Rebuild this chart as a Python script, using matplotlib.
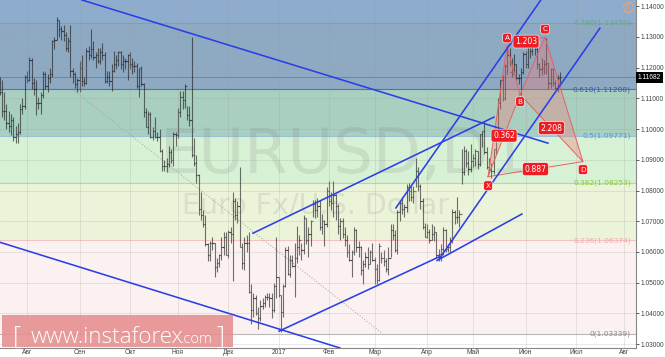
import matplotlib
matplotlib.use('Agg')
import matplotlib.pyplot as plt
import matplotlib.transforms as mtransforms
import numpy as np
import pandas as pd

# daily EURUSD bars, 14 Jul 2016 .. 22 Jun 2017
high = [
    1.1170, 1.1160, 1.1120, 1.1080, 1.1060, 1.1050, 1.1040, 1.1010, 1.1020, 1.1080, 1.1100, 1.1175,
    1.1190, 1.1235, 1.1230, 1.1165, 1.1160, 1.1105, 1.1120, 1.1190, 1.1185, 1.1180, 1.1200, 1.1290,
    1.1300, 1.1365, 1.1355, 1.1335, 1.1340, 1.1315, 1.1300, 1.1340, 1.1200, 1.1185, 1.1165,
    1.1220, 1.1240, 1.1170, 1.1265, 1.1270, 1.1325, 1.1285, 1.1250, 1.1265, 1.1265, 1.1280, 1.1250,
    1.1190, 1.1190, 1.1210, 1.1255, 1.1240, 1.1255, 1.1255, 1.1240, 1.1230, 1.1245,
    1.1250, 1.1230, 1.1220, 1.1215, 1.1200, 1.1205, 1.1150, 1.1070, 1.1060, 1.1055, 1.1005, 1.1040,
    1.0990, 1.1000, 1.0935, 1.0900, 1.0905, 1.0945, 1.0935, 1.0990, 1.0990,
    1.1070, 1.1125, 1.1125, 1.1145, 1.1075, 1.1075, 1.1300, 1.0970, 1.0915, 1.0855, 1.0795, 1.0735,
    1.0720, 1.0630, 1.0635, 1.0650, 1.0630, 1.0580, 1.0595, 1.0650, 1.0665, 1.0665,
    1.0670, 1.0680, 1.0795, 1.0775, 1.0765, 1.0875, 1.0630, 1.0650, 1.0655, 1.0665, 1.0495, 1.0465,
    1.0460, 1.0420, 1.0445, 1.0450, 1.0460, 1.0465, 1.0465, 1.0465, 1.0500, 1.0650,
    1.0520, 1.0460, 1.0495, 1.0615, 1.0620, 1.0590, 1.0590, 1.0630, 1.0685, 1.0655, 1.0630, 1.0720,
    1.0710, 1.0680, 1.0705, 1.0770, 1.0770, 1.0775, 1.0770, 1.0725, 1.0705, 1.0810,
    1.0830, 1.0795, 1.0830, 1.0790, 1.0755, 1.0710, 1.0710, 1.0680, 1.0655, 1.0625, 1.0605, 1.0680,
    1.0675, 1.0635, 1.0620, 1.0575, 1.0600, 1.0615, 1.0605, 1.0630,
    1.0585, 1.0560, 1.0630, 1.0600, 1.0605, 1.0580, 1.0615, 1.0690, 1.0690, 1.0670, 1.0735, 1.0765,
    1.0780, 1.0755, 1.0820, 1.0825, 1.0815, 1.0815, 1.0905, 1.0875, 1.0820, 1.0775, 1.0695,
    1.0690, 1.0675, 1.0690, 1.0685, 1.0665, 1.0610, 1.0625, 1.0680, 1.0675, 1.0625, 1.0650, 1.0740,
    1.0735, 1.0780, 1.0735, 1.0935, 1.0945, 1.0935, 1.0930, 1.0950,
    1.0920, 1.0935, 1.0930, 1.0985, 1.0995, 1.1025, 1.0940, 1.0905, 1.0890, 1.0935, 1.0985, 1.1100,
    1.1160, 1.1175, 1.1210, 1.1268, 1.1265, 1.1230, 1.1245, 1.1210, 1.1180, 1.1200, 1.1250,
    1.1255, 1.1285, 1.1285, 1.1285, 1.1280, 1.1270, 1.1215, 1.1230, 1.1225, 1.1296, 1.1215, 1.1200,
    1.1200, 1.1160, 1.1175, 1.1185,
]
low = [
    1.1110, 1.1040, 1.1030, 1.1000, 1.0990, 1.0980, 1.0960, 1.0955, 1.0955, 1.0985, 1.1050, 1.1065,
    1.1150, 1.1155, 1.1130, 1.1110, 1.1045, 1.1065, 1.1050, 1.1100, 1.1130, 1.1120, 1.1150, 1.1170,
    1.1260, 1.1290, 1.1300, 1.1290, 1.1285, 1.1255, 1.1250, 1.1170, 1.1150, 1.1135, 1.1120,
    1.1120, 1.1140, 1.1140, 1.1145, 1.1225, 1.1230, 1.1225, 1.1200, 1.1215, 1.1210, 1.1225, 1.1150,
    1.1150, 1.1140, 1.1125, 1.1185, 1.1195, 1.1205, 1.1195, 1.1185, 1.1195, 1.1160,
    1.1195, 1.1180, 1.1185, 1.1135, 1.1105, 1.1140, 1.1040, 1.1005, 1.0985, 1.0970, 1.0965, 1.0970,
    1.0960, 1.0925, 1.0865, 1.0865, 1.0860, 1.0875, 1.0890, 1.0880, 1.0945,
    1.0970, 1.1040, 1.1065, 1.1070, 1.1030, 1.1010, 1.0910, 1.0880, 1.0825, 1.0720, 1.0705, 1.0680,
    1.0620, 1.0570, 1.0570, 1.0605, 1.0520, 1.0535, 1.0550, 1.0575, 1.0590, 1.0590,
    1.0580, 1.0630, 1.0505, 1.0705, 1.0695, 1.0615, 1.0545, 1.0540, 1.0600, 1.0465, 1.0365, 1.0390,
    1.0395, 1.0350, 1.0375, 1.0415, 1.0420, 1.0445, 1.0420, 1.0385, 1.0405, 1.0450,
    1.0455, 1.0340, 1.0390, 1.0485, 1.0525, 1.0520, 1.0550, 1.0455, 1.0565, 1.0590, 1.0575, 1.0595,
    1.0625, 1.0585, 1.0620, 1.0715, 1.0710, 1.0715, 1.0670, 1.0660, 1.0620, 1.0680,
    1.0750, 1.0735, 1.0715, 1.0705, 1.0660, 1.0640, 1.0645, 1.0620, 1.0585, 1.0570, 1.0520, 1.0590,
    1.0600, 1.0585, 1.0525, 1.0495, 1.0550, 1.0545, 1.0560, 1.0570,
    1.0495, 1.0495, 1.0505, 1.0565, 1.0555, 1.0535, 1.0525, 1.0585, 1.0640, 1.0600, 1.0595, 1.0700,
    1.0725, 1.0715, 1.0730, 1.0765, 1.0765, 1.0760, 1.0810, 1.0800, 1.0740, 1.0675, 1.0650,
    1.0645, 1.0630, 1.0640, 1.0635, 1.0580, 1.0570, 1.0570, 1.0590, 1.0600, 1.0600, 1.0600, 1.0630,
    1.0690, 1.0695, 1.0680, 1.0820, 1.0850, 1.0875, 1.0850, 1.0860,
    1.0875, 1.0880, 1.0870, 1.0880, 1.0940, 1.0920, 1.0870, 1.0865, 1.0840, 1.0855, 1.0920, 1.0970,
    1.1065, 1.1090, 1.1095, 1.1180, 1.1205, 1.1170, 1.1180, 1.1160, 1.1145, 1.1110, 1.1180,
    1.1200, 1.1200, 1.1230, 1.1240, 1.1240, 1.1195, 1.1170, 1.1175, 1.1180, 1.1180, 1.1130, 1.1135,
    1.1140, 1.1130, 1.1120, 1.1150,
]
close = [
    1.1120, 1.1060, 1.1060, 1.1020, 1.1010, 1.1030, 1.0975, 1.0985, 1.0990, 1.1065, 1.1075, 1.1170,
    1.1160, 1.1225, 1.1150, 1.1130, 1.1085, 1.1085, 1.1110, 1.1180, 1.1140, 1.1165, 1.1180, 1.1285,
    1.1290, 1.1355, 1.1325, 1.1320, 1.1305, 1.1265, 1.1285, 1.1190, 1.1180, 1.1145, 1.1160,
    1.1200, 1.1155, 1.1150, 1.1255, 1.1240, 1.1260, 1.1235, 1.1240, 1.1220, 1.1250, 1.1240, 1.1155,
    1.1170, 1.1155, 1.1190, 1.1210, 1.1225, 1.1250, 1.1210, 1.1220, 1.1220, 1.1240,
    1.1210, 1.1205, 1.1205, 1.1140, 1.1200, 1.1145, 1.1055, 1.1005, 1.1050, 1.0975, 1.0995, 1.0975,
    1.0975, 1.0930, 1.0880, 1.0880, 1.0885, 1.0925, 1.0900, 1.0985, 1.0980,
    1.1055, 1.1105, 1.1095, 1.1140, 1.1045, 1.1030, 1.0915, 1.0890, 1.0850, 1.0740, 1.0720, 1.0690,
    1.0625, 1.0590, 1.0630, 1.0630, 1.0550, 1.0565, 1.0590, 1.0615, 1.0650, 1.0590,
    1.0665, 1.0660, 1.0765, 1.0720, 1.0750, 1.0615, 1.0565, 1.0630, 1.0630, 1.0470, 1.0410, 1.0450,
    1.0400, 1.0385, 1.0425, 1.0435, 1.0455, 1.0455, 1.0450, 1.0410, 1.0490, 1.0520,
    1.0460, 1.0405, 1.0490, 1.0605, 1.0530, 1.0575, 1.0555, 1.0580, 1.0615, 1.0640, 1.0605, 1.0710,
    1.0640, 1.0660, 1.0700, 1.0755, 1.0735, 1.0750, 1.0680, 1.0700, 1.0690, 1.0800,
    1.0765, 1.0760, 1.0785, 1.0750, 1.0685, 1.0700, 1.0660, 1.0640, 1.0600, 1.0575, 1.0600, 1.0670,
    1.0615, 1.0615, 1.0540, 1.0560, 1.0585, 1.0560, 1.0600, 1.0575,
    1.0545, 1.0510, 1.0620, 1.0580, 1.0570, 1.0545, 1.0580, 1.0670, 1.0655, 1.0605, 1.0730, 1.0760,
    1.0740, 1.0745, 1.0810, 1.0800, 1.0780, 1.0800, 1.0865, 1.0815, 1.0765, 1.0680, 1.0650,
    1.0665, 1.0640, 1.0660, 1.0665, 1.0590, 1.0595, 1.0610, 1.0670, 1.0610, 1.0615, 1.0640, 1.0730,
    1.0715, 1.0715, 1.0725, 1.0860, 1.0930, 1.0890, 1.0870, 1.0895,
    1.0905, 1.0930, 1.0885, 1.0985, 1.0995, 1.0925, 1.0875, 1.0870, 1.0865, 1.0935, 1.0980, 1.1085,
    1.1160, 1.1100, 1.1205, 1.1240, 1.1185, 1.1180, 1.1210, 1.1165, 1.1165, 1.1185, 1.1245,
    1.1210, 1.1280, 1.1255, 1.1275, 1.1260, 1.1210, 1.1195, 1.1200, 1.1210, 1.1215, 1.1150, 1.1195,
    1.1150, 1.1135, 1.1165, 1.11682,
]
first_open = 1.1150
last_price = 1.11682

month_labels = ['Авг', 'Сен', 'Окт', 'Ноя', 'Дек', '2017', 'Фев', 'Мар', 'Апр', 'Май', 'Июн', 'Июл', 'Авг']
price_ticks = [1.03, 1.04, 1.05, 1.06, 1.07, 1.08, 1.09, 1.10, 1.11, 1.12, 1.13, 1.14]

# fibonacci retracement
fib_ratios = ['0', '0.236', '0.382', '0.5', '0.618', '0.786']
fib_prices = [1.03339, 1.06374, 1.08253, 1.09771, 1.11288, 1.13450]
fib_top = 1.16203
zone_colors = ['#fcf1f1', '#ebf3d9', '#d6f1d4', '#a8cfc0', '#8ea9c2', '#8eadce']
line_colors = ['#b8b8b8', '#f4c4c4', '#b4dc8c', '#9cc0d8', '#5b6fb8', '#7ca596']
text_colors = ['#8c8c8c', '#f2aaaa', '#8cc63f', '#4a9fd6', '#3f57a8', '#6aa587']

# trend lines: (bar index, price) -> (bar index, price)
trend_lines = [
    (36.0, 1.14197, 239.8, 1.09540),
    (0.2, 1.06315, 148.9, 1.02877),
    (122.2, 1.03425, 192.6, 1.05856),
    (110.8, 1.06611, 216.2, 1.10388),
    (173.3, 1.07432, 236.7, 1.14197),
    (192.1, 1.05757, 262.5, 1.13278),
    (191.3, 1.05724, 228.4, 1.07235),
]
fib_base = (0.2, 1.13146, 167.2, 1.03360)

# XABCD harmonic pattern
pat_names = ['X', 'A', 'B', 'C', 'D']
pat_idx = [213.6, 221.9, 227.6, 238.5, 255.1]
pat_price = [1.0845, 1.1270, 1.1112, 1.1299, 1.0894]
pat_ratios = ['0.362', '1.203', '2.208', '0.887']

dates = pd.bdate_range('2016-07-14', periods=len(close))
axis_days = pd.bdate_range('2016-07-14', '2017-08-31')
month_pos = [i for i in range(1, len(axis_days)) if axis_days[i].month != axis_days[i - 1].month]

fig = plt.figure(figsize=(6.65, 3.57), dpi=100)
ax = fig.add_axes([0, 9 / 357, 636 / 665, 348 / 357])
ax.set_xlim(0.19, 278.3)
ax.set_ylim(1.02877, 1.14197)

# zones
bounds = fib_prices + [fib_top]
for k in range(len(fib_prices)):
    ax.axhspan(bounds[k], bounds[k + 1], color=zone_colors[k], lw=0, zorder=0)
    ax.axhline(fib_prices[k], color=line_colors[k], lw=0.8, zorder=0.6)
    ax.text(631 / 636, fib_prices[k], f'{fib_ratios[k]}({fib_prices[k]:.5f})',
            transform=mtransforms.blended_transform_factory(ax.transAxes, ax.transData),
            ha='right', va='center', fontsize=5.4, color=text_colors[k], zorder=5)

ax.grid(True, color='#9a9a9a', alpha=0.25, lw=0.6)
ax.set_axisbelow(False)
for gl in ax.get_xgridlines() + ax.get_ygridlines():
    gl.set_zorder(0.5)

# watermark
ax.text(160 / 636, 1 - 173 / 348, 'EURUSD,D1', transform=ax.transAxes, fontsize=45,
        color='#808080', alpha=0.17, ha='left', va='baseline', zorder=1)
ax.text(182 / 636, 1 - 214 / 348, 'Euro Fx/U.S. Dollar', transform=ax.transAxes, fontsize=20.5,
        color='#808080', alpha=0.17, ha='left', va='baseline', zorder=1)

# fibonacci base (dotted)
ax.plot([fib_base[0], fib_base[2]], [fib_base[1], fib_base[3]], color='#a0a0a0',
        lw=0.7, ls=(0, (1, 2)), zorder=1.5)

# OHLC bars
x = np.arange(len(close))
opn = [first_open] + close[:-1]
ax.vlines(x, low, high, color='#1c1c1c', alpha=0.62, lw=0.8, zorder=2)
ax.hlines(opn, x - 0.55, x, color='#1c1c1c', alpha=0.62, lw=0.8, zorder=2)
ax.hlines(close, x, x + 0.55, color='#1c1c1c', alpha=0.62, lw=0.8, zorder=2)

# current price
ax.axhline(last_price, color='#7c7c8c', lw=0.6, zorder=1.8)
ax.text(1 + 2 / 636, last_price, f'{last_price:.5f}',
        transform=mtransforms.blended_transform_factory(ax.transAxes, ax.transData),
        ha='left', va='center', fontsize=4.8, color='white', zorder=6, clip_on=False,
        family='Liberation Sans',
        bbox=dict(boxstyle='square,pad=0.3', fc='black', ec='none'))

# trend lines
for x0, y0, x1, y1 in trend_lines:
    ax.plot([x0, x1], [y0, y1], color='#2b3fe6', lw=1.15, zorder=3)

# harmonic pattern
px = pat_idx
py = pat_price
for tri in ([0, 1, 2], [2, 3, 4]):
    ax.fill([px[t] for t in tri], [py[t] for t in tri], color='#f27a7a', alpha=0.35, lw=0, zorder=2.5)
    ax.plot([px[t] for t in tri + [tri[0]]], [py[t] for t in tri + [tri[0]]],
            color='#e86060', lw=0.7, zorder=2.6)
for a, b in ((0, 4), (1, 3)):
    ax.plot([px[a], px[b]], [py[a], py[b]], color='#e86060', lw=0.7, zorder=2.6)

red_box = dict(boxstyle='round,pad=0.25,rounding_size=0.3', fc='#ee1d24', ec='#ffffff', lw=0.4)
offsets = [-9, 8, -7, 8, -8]
for k, name in enumerate(pat_names):
    ax.annotate(name, (px[k], py[k]), xytext=(0, offsets[k] * 0.72), textcoords='offset points',
                ha='center', va='center', fontsize=5.2, color='white', bbox=red_box, zorder=7)
for (a, b), lab in zip(((0, 2), (1, 3), (2, 4), (0, 4)), pat_ratios):
    ax.text((px[a] + px[b]) / 2, (py[a] + py[b]) / 2, lab, ha='center', va='center',
            fontsize=5.6, color='white', bbox=red_box, zorder=7)

# alert icon
ax.plot([628 / 636], [1 - 7 / 348], transform=ax.transAxes, marker='o', ms=7, mfc='none',
        mec='#f0a070', mew=0.8, zorder=6, clip_on=False)
ax.text(628 / 636, 1 - 7 / 348, '!', transform=ax.transAxes, ha='center', va='center',
        fontsize=5, color='#f0a070', zorder=6)

# instaforex stamp
ax.add_patch(plt.Rectangle((2 / 636, 1 / 348), 231 / 636, 32 / 348, transform=ax.transAxes,
                           fc='#e68e8e', ec='none', alpha=0.88, zorder=8))
stamp = dict(transform=ax.transAxes, color='white', va='baseline', ha='left', zorder=9,
             family='Open Sans', fontweight='light')
ax.text(13 / 636, 1 - 344 / 348, '[', fontsize=18, **stamp)
ax.text(31 / 636, 1 - 343 / 348, 'www.instaforex', fontsize=16.2, **stamp)
ax.text(181 / 636, 1 - 343 / 348, '.com', fontsize=10.5, **stamp)
ax.text(216 / 636, 1 - 344 / 348, ']', fontsize=18, **stamp)

# axes
ax.yaxis.tick_right()
ax.set_yticks(price_ticks)
ax.set_yticklabels([f'{p:.5f}' for p in price_ticks], family='Liberation Sans')
ax.set_xticks(month_pos)
ax.set_xticklabels(month_labels, family='Liberation Sans')
ax.tick_params(axis='y', labelsize=4.8, length=2, pad=1.2, colors='#444444', width=0.6)
ax.tick_params(axis='x', labelsize=4.8, length=0, pad=0.8, colors='#444444')
for side in ('left', 'top'):
    ax.spines[side].set_visible(False)
for side in ('right', 'bottom'):
    ax.spines[side].set_color('#888888')
    ax.spines[side].set_linewidth(0.8)

fig.savefig('out.png', dpi=100)
